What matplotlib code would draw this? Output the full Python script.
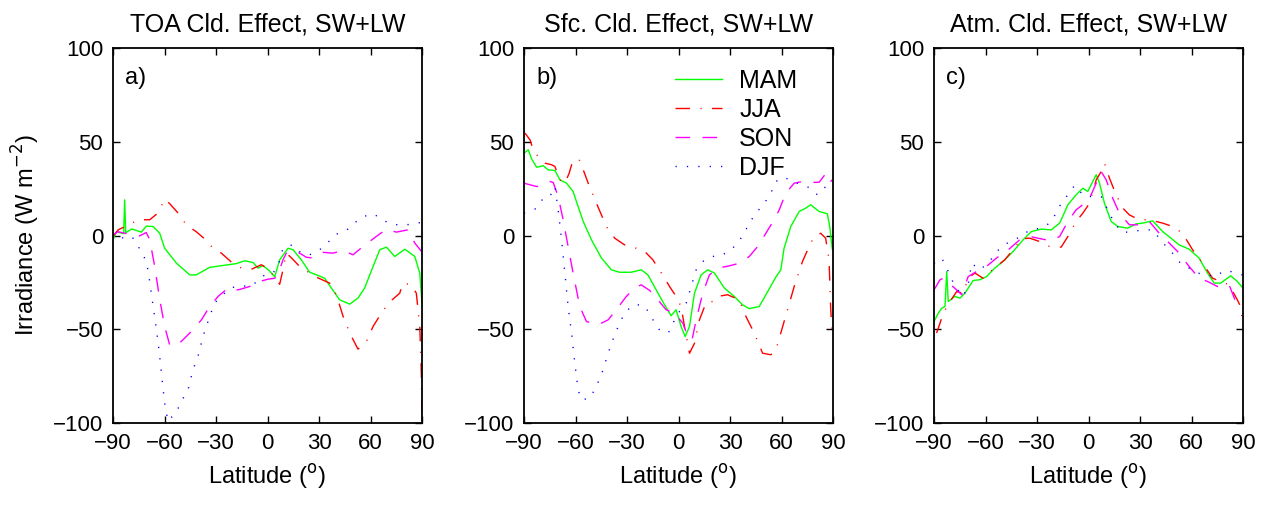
import matplotlib
matplotlib.use("Agg")
import matplotlib.pyplot as plt

plt.rcParams['font.family'] = ['Liberation Sans', 'DejaVu Sans']
plt.rcParams['lines.scale_dashes'] = False

seasons = ['MAM', 'JJA', 'SON', 'DJF']
titles = ['TOA Cld. Effect, SW+LW', 'Sfc. Cld. Effect, SW+LW', 'Atm. Cld. Effect, SW+LW']
panel_tags = ['a)', 'b)', 'c)']
lat_ticks = [-90, -60, -30, 0, 30, 60, 90]
irr_ticks = [-100, -50, 0, 50, 100]

# ---- TOA ----
toa_mam_lat = [-90, -88, -84, -83.8, -83.2, -82.6, -79, -73.5, -70.6, -66.7, -62.8, -59.9, -53, -45.3, -41.5,
               -33.7, -26, -18.2, -13.3, -8.4, -5.5, -2.6, 1.3, 4.2, 7.1, 12, 14.9, 19.7, 24.6, 29.4, 33.3,
               37.2, 42, 47.9, 52.7, 56.6, 61.5, 65.4, 69.3, 74.1, 80, 85.8, 88.7, 90]
toa_mam_val = [-2.3, 2, 1, 1, 19, 1.5, 3.5, 1.8, 5, 4.8, 1.2, -6.8, -14.8, -21, -21,
               -17, -16, -15, -13.5, -14.4, -17.4, -16, -19, -22, -13, -6.8, -7.6, -13, -19.6, -21.3, -22.8,
               -28, -34.3, -36.6, -33.4, -28, -16.5, -7.6, -6.2, -11.2, -7.3, -11.2, -20, -36]
toa_jja_lat = [-90, -87, -75, -68.6, -63.8, -59.9, -57, -52.1, -47.3, -41.5, -36.6, -31.7, -26.9, -21, -15.2,
               -9.4, -3.6, 1.3, 4.2, 7.1, 9, 11, 14, 18.7, 24.6, 28.4, 36.2, 40.1, 44, 47.9, 52.7, 57.6,
               61.5, 67.3, 72.1, 77, 78.9, 83.8, 86.7, 88.7, 89.6, 90]
toa_jja_val = [-0.5, 3, 8.4, 8.4, 12, 19.4, 17, 12, 5.7, 2, -1.8, -6.8, -9.4, -14.2, -17.4,
               -18, -15.6, -18.3, -22.8, -26, -18.3, -9.4, -12, -16.5, -20, -22.2, -25.4, -31.6, -43, -52, -60.6, -56.5,
               -48.5, -40, -34.7, -30.8, -25.4, -26.3, -30.8, -48.5, -73, -96.5]
toa_son_lat = [-90, -87, -82, -74.5, -70.6, -68.6, -65.7, -62.8, -59.9, -57, -53, -49.2, -43.4, -38.5, -33.7,
               -28.8, -23, -17.2, -10.4, -4.6, 0.3, 4.2, 6.1, 9, 11, 14, 18.7, 22.6, 26.5, 32.3, 38.2, 44,
               49.8, 55.6, 63.4, 69.3, 75, 81.8, 85.8, 89.7]
toa_son_val = [0.4, 2, 1, -0.2, 1.6, -2.3, -16.5, -34, -48.5, -58.3, -58.8, -55.6, -50.3, -45, -37.9,
               -32.5, -28, -29, -27.2, -24.5, -23.3, -22.8, -21, -13, -9.4, -8, -9.4, -11.6, -12, -9, -9.4, -8,
               -10.3, -5.9, -0.5, 3.4, 1.8, 3, -4, -8.5]
toa_djf_lat = [-90, -87, -83.2, -78.3, -75.4, -72.5, -69.6, -67.7, -64.8, -63.2, -61.8, -59.9, -58, -53, -50.2,
               -46.3, -43.4, -40.5, -37.6, -33.7, -30.8, -26.9, -22, -15.2, -10.4, -6.5, -1.6, 3.2, 6.1, 9,
               14.4, 19.7, 24.6, 30.4, 35.2, 40.1, 45.9, 51.8, 55.6, 61.5, 66.4, 71.2, 78, 83.8, 89.7]
toa_djf_val = [-0.5, 1, -2.3, -1.4, -5.9, -9.4, -18.3, -30.8, -49.4, -61, -73.4, -89.4, -99, -94, -88.5,
               -82.3, -71.6, -64.5, -53.9, -43.2, -36, -32.5, -28, -26.8, -27.2, -24.9, -21, -20, -16.5, -6.8,
               -5, -9.4, -10.3, -7.6, -3.7, 0.7, 2.7, 7.5, 10, 11.6, 8.9, 6.2, 5.5, 6, 7]

# ---- Surface ----
sfc_mam_lat = [-90, -87.5, -85.5, -82.6, -78.8, -75.9, -72, -69.1, -65.2, -61.4, -58.5, -55.5, -50.7, -44.9,
               -39.1, -34.3, -27.5, -21.7, -17.8, -13, -8.1, -4.3, -1.4, 1.5, 3.9, 6.4, 9.3, 13.2, 17, 20.9,
               26.7, 32.5, 37.4, 41.2, 47, 51.9, 56.7, 59.6, 61.5, 65.4, 70.3, 74.1, 77, 81.9, 86.7, 88.1, 89.6]
sfc_mam_val = [43.9, 45.7, 40.7, 36.4, 37.2, 35, 34.7, 29.7, 27.9, 23.5, 15.5, 7.5, -2.3, -12,
               -18.3, -19.6, -19.6, -18.3, -21, -29, -37, -42.8, -39.6, -48.5, -53.9, -48.5, -30.8, -21, -18.3, -20,
               -28, -32.5, -37, -39, -37.9, -30, -22.2, -18.3, -6.8, 4.8, 12.8, 14.6, 16.4, 12.8, 11.6, 4.8, -7.3]
sfc_jja_lat = [-89.4, -86.5, -84.6, -81.7, -77.8, -73.9, -72, -69.1, -66.2, -63.7, -61.4, -57.5, -52.6, -47.8,
               -42, -37.2, -31.4, -24.6, -19.7, -14.9, -10, -5.2, -1.4, 1.5, 3.5, 6.4, 9.3, 12.2, 16, 19.9,
               22.8, 28.6, 35.4, 39.3, 44.1, 49, 53.8, 56.7, 59.6, 63.5, 67.4, 72.2, 76.1, 79, 82.8, 85.7,
               87.7, 88.6, 89.6]
sfc_jja_val = [54.6, 51, 45.7, 42, 38.6, 37.7, 36.8, 29.7, 27.9, 33.2, 40.4, 40, 27.9, 17.2,
               4.8, -1.4, -5, -6.8, -8.5, -13, -20, -27.2, -32.5, -37.9, -48.5, -62.8, -57.5, -45, -36, -35.2,
               -32.5, -31.6, -34.3, -43.2, -52, -62.8, -63.6, -61, -52, -39.6, -27.2, -13.9, -5.9, -0.5, 1.2, -1.4,
               -13, -37.9, -53.9]
sfc_son_lat = [-90, -82.6, -78.8, -74.9, -73, -70.1, -67.2, -64.3, -61.4, -57.5, -53.6, -46.8, -41, -36.2,
               -30.4, -25.5, -21.7, -16.8, -12, -7.2, -2.3, 2.5, 5.4, 7.9, 10.3, 14.1, 18, 22.8, 29.6, 35.4,
               41.2, 46.1, 50.9, 55.7, 58.7, 62.5, 67.4, 72.2, 77, 81.9, 85.7, 88.1, 89.6]
sfc_son_val = [27.9, 26.1, 27, 28.8, 28.3, 20.8, 8.4, -5.9, -20, -37.9, -45.9, -47.6, -45, -39.6,
               -32.5, -28, -26.3, -29.3, -34.3, -39.6, -41.4, -46.8, -53.9, -55.6, -45, -30.8, -21, -17.4, -16.2, -14.8,
               -11.2, -5.9, 1.2, 8.4, 13.7, 22.6, 27.9, 28.8, 28.3, 28.4, 32.9, 28.3, 29.7]
sfc_djf_lat = [-90, -86.5, -82.6, -78.8, -74.9, -72, -70.1, -68.1, -66.2, -64.3, -62.3, -60.4, -58.5, -56.5,
               -51.7, -47.8, -43.9, -41, -37.2, -34.3, -31.4, -26.5, -20.7, -16.8, -13.9, -10, -5.2, -2.3, 0.6,
               4.5, 7.4, 10.3, 15.1, 20, 25.7, 30.6, 34.5, 38.3, 41.2, 45.1, 50, 53.8, 56.7, 61.5, 66.4, 72.2,
               77, 80.9, 84.8, 89.6]
sfc_djf_val = [11.9, 12.8, 14.6, 19.9, 20.8, 26.1, 13.7, -2.3, -20, -37.9, -52, -68, -82.3, -87.6,
               -86.8, -80.5, -71.6, -62.8, -53, -46.8, -41.4, -37, -37, -41.4, -46.8, -51.7, -51.2, -45, -40.5,
               -36, -27.2, -18.3, -13, -11.2, -10.3, -7.6, -4, 1.2, 6.6, 11.9, 17.2, 22.6, 28.8, 31.1, 28.8, 27,
               25.2, 21.7, 25.2, 29.7]

# ---- Atmosphere ----
atm_mam_lat = [-90, -87.5, -85.5, -83.6, -82.6, -81.7, -77.8, -74.9, -72, -67.2, -63.3, -59.4, -54.6, -48.8,
               -43.9, -38.1, -33.3, -27.5, -21.7, -16.8, -12, -7.2, -3.3, -0.4, 2.5, 4.5, 6.4, 9.3, 13.2, 17,
               22.8, 27.7, 31.5, 37.4, 43.2, 48, 52.8, 58.6, 64.4, 69.3, 73.2, 77, 82.8, 86.7, 89.6]
atm_mam_val = [-45.9, -41.4, -38.8, -37.9, -19.2, -35.2, -32.5, -33.4, -30.8, -24, -23.6, -21.9, -17.4, -13,
               -8.5, -2.3, 2.1, 3.4, 3, 6.6, 16.4, 21.7, 25.2, 23.5, 28.8, 32.4, 27.9, 17.2, 7.5, 4.8,
               3.9, 6.2, 6.6, 7.8, 2.1, -1.4, -5, -7.3, -12, -20, -25.4, -25.4, -21.5, -24.5, -27.6]
atm_jja_lat = [-88.5, -86.5, -84.6, -80.7, -76.8, -73, -70.1, -66.2, -61.4, -56.5, -48.8, -43.9, -39.1, -34.3,
               -28.5, -22.6, -15.9, -12, -7.2, -3.3, 0.6, 4.5, 7.4, 9.3, 12.2, 16.1, 20, 23.8, 29.6, 35.4,
               43.2, 49, 54.8, 60.6, 66.5, 72.3, 77, 81.9, 86.7, 88.6, 89.6]
atm_jja_val = [-52, -46.8, -41.4, -35.2, -29.9, -30.8, -22.8, -20, -22.8, -18.7, -13, -7.6, -1.8, -1.4,
               -3.2, -5.9, -6.2, -0.5, 7.5, 11.9, 17.2, 29.7, 34.1, 38.6, 30.6, 21.7, 14.6, 11, 8.4, 8.4,
               6.6, 4.8, 1.2, -7.6, -14.8, -22.8, -24.5, -26.3, -34.3, -37.9, -45]
atm_son_lat = [-90, -86.5, -84.6, -76.8, -73.9, -70.1, -65.2, -59.4, -53.6, -47.8, -40.1, -34.3, -26.5, -21.7,
               -16.8, -12, -7.2, -2.3, 1.5, 4.5, 7.4, 10.3, 14.1, 18, 23.8, 29.6, 35.4, 41.2, 47, 52.8,
               58.6, 64.4, 69.3, 75.1, 81.9, 85.7, 89.6]
atm_son_val = [-29, -23.6, -22.8, -29, -31.6, -21.9, -19.2, -16.5, -12, -8.5, -2.3, -0.5, -2, -2.8,
               -0.5, 7.5, 13.7, 17.2, 21.7, 27.9, 34.1, 29.7, 19.9, 11.9, 5.7, 5.7, 7.5, 1.2, -4, -9.4,
               -16.5, -22.8, -24.5, -27.2, -26.3, -35.2, -36]
atm_djf_lat = [-90, -85.5, -82.6, -77.8, -73, -70.1, -68.1, -63.3, -58.5, -51.7, -45.9, -39.1, -34.3, -27.5,
               -22.6, -18.8, -15.9, -12, -8.1, -2.3, 2.5, 7.4, 12.2, 15.1, 19.9, 25.7, 31.5, 37.4, 41.2, 46.1,
               49.9, 53.8, 58.6, 63.5, 68.3, 74.1, 79, 82.8, 89.6]
atm_djf_val = [-14.8, -12, -17.4, -27.2, -32.5, -26.3, -14.8, -18.3, -14.8, -6.8, -3.2, -0.5, 3, 3.9,
               6.6, 11.9, 17.2, 21.7, 26.7, 20.8, 20.8, 20.8, 11.9, 6.6, 1.6, 2.1, 3, 3, -1.4, -6.8,
               -10.3, -15.1, -17.4, -20, -21, -21.9, -18.7, -19.2, -21]

panels = [
    [(toa_mam_lat, toa_mam_val), (toa_jja_lat, toa_jja_val), (toa_son_lat, toa_son_val), (toa_djf_lat, toa_djf_val)],
    [(sfc_mam_lat, sfc_mam_val), (sfc_jja_lat, sfc_jja_val), (sfc_son_lat, sfc_son_val), (sfc_djf_lat, sfc_djf_val)],
    [(atm_mam_lat, atm_mam_val), (atm_jja_lat, atm_jja_val), (atm_son_lat, atm_son_val), (atm_djf_lat, atm_djf_val)],
]

colors = ['#00ff00', '#ff0000', '#ff00ff', '#0000ff']
styles = ['-', (0, (10.5, 7.5, 0.8, 7.5)), (0, (10.5, 9)), (0, (0.9, 7.3))]

fig = plt.figure(figsize=(12.73, 5.05), dpi=100)
lefts = [113 / 1273, 524 / 1273, 934 / 1273]

for i in range(3):
    ax = fig.add_axes([lefts[i], 82 / 505, 309 / 1273, 375 / 505])
    for j in range(4):
        lat, val = panels[i][j]
        ax.plot(lat, val, color=colors[j], linestyle=styles[j], linewidth=1.0, label=seasons[j])
    ax.set_xlim(-90, 90)
    ax.set_ylim(-100, 100)
    ax.set_xticks(lat_ticks)
    ax.set_yticks(irr_ticks)
    ax.set_xticklabels(['\u2212' + str(-t) if t < 0 else str(t) for t in lat_ticks])
    ax.set_yticklabels(['\u2212' + str(-t) if t < 0 else str(t) for t in irr_ticks])
    ax.tick_params(direction='in', top=True, right=True, length=5, width=1, labelsize=16, pad=7)
    for s in ax.spines.values():
        s.set_linewidth(1.3)
    ax.set_title(titles[i], fontsize=18, pad=12)
    ax.set_xlabel('Latitude ($^{\\mathrm{o}}$)', fontsize=17, labelpad=6)
    ax.text(0.04, 0.92, panel_tags[i], transform=ax.transAxes, fontsize=17, va='center')
    if i == 0:
        ax.set_ylabel('Irradiance (W m$^{\\mathrm{-2}}$)', fontsize=17, labelpad=8)
    if i == 1:
        ax.legend(loc='upper left', bbox_to_anchor=(0.49, 0.944), frameon=False, fontsize=18,
                  handlelength=1.85, handletextpad=0.7, labelspacing=0.2, borderpad=0, borderaxespad=0)

fig.savefig('out.png', dpi=100)
